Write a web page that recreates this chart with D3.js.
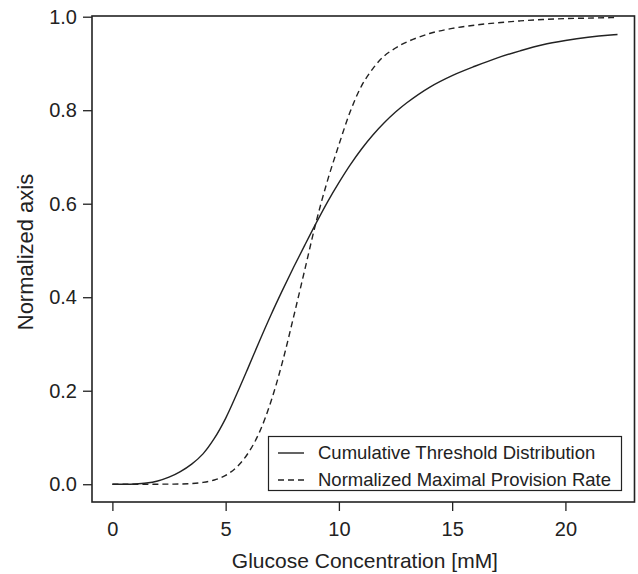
<!DOCTYPE html>
<html>
<head>
<meta charset="utf-8">
<script src="https://cdn.jsdelivr.net/npm/d3@7"></script>
<style>
  body { margin: 0; background: #fff; }
  svg text { font-family: "Liberation Sans", Arial, Helvetica, sans-serif; fill: #222; }
</style>
</head>
<body>
<svg id="chart" width="638" height="574"></svg>
<script>
// glucose concentration [mM] sample points
var glucose = [0, 0.5, 1, 1.5, 2, 2.5, 3, 3.5, 4, 4.5, 5, 5.5, 6, 6.5, 7, 7.5, 8, 8.5, 9, 9.5, 10, 10.5, 11, 11.5, 12, 12.5, 13, 14, 15, 16, 17, 18, 19, 20, 21, 22, 22.3];

// cumulative threshold distribution (solid)
var thresholdCdf = [0, 0, 0.0006, 0.0025, 0.007, 0.015, 0.027, 0.043, 0.065, 0.098, 0.141, 0.194, 0.25, 0.307, 0.362, 0.414, 0.464, 0.512, 0.559, 0.604, 0.645, 0.683, 0.717, 0.747, 0.773, 0.796, 0.816, 0.849, 0.874, 0.894, 0.912, 0.927, 0.94, 0.949, 0.956, 0.961, 0.962];

// normalized maximal provision rate (dashed)
var provisionRate = [0, 0, 0, 0, 0.0001, 0.0002, 0.0005, 0.0015, 0.004, 0.009, 0.019, 0.037, 0.067, 0.112, 0.177, 0.26, 0.358, 0.46, 0.562, 0.65, 0.726, 0.797, 0.852, 0.889, 0.916, 0.933, 0.946, 0.964, 0.975, 0.982, 0.987, 0.991, 0.994, 0.996, 0.997, 0.998, 0.9985];

var xTicks = [0, 5, 10, 15, 20];
var yTicks = [0, 0.2, 0.4, 0.6, 0.8, 1.0];
var seriesNames = ["Cumulative Threshold Distribution", "Normalized Maximal Provision Rate"];

var svg = d3.select("#chart");

var plot = { left: 92, right: 634.5, top: 16, bottom: 502 };

var x = d3.scaleLinear().domain([-0.9, 23.05]).range([plot.left, plot.right]);
var y = d3.scaleLinear().domain([-0.038, 1.0015]).range([plot.bottom, plot.top]);

// axes
var xAxis = d3.axisBottom(x).tickValues(xTicks).tickSize(9).tickPadding(6).tickFormat(d3.format("d"));
var yAxis = d3.axisLeft(y).tickValues(yTicks).tickSize(9).tickPadding(6).tickFormat(d3.format(".1f"));

var gx = svg.append("g")
    .attr("transform", "translate(0," + plot.bottom + ")")
    .call(xAxis);
var gy = svg.append("g")
    .attr("transform", "translate(" + plot.left + ",0)")
    .call(yAxis);

[gx, gy].forEach(function(g) {
    g.select(".domain").remove();
    g.selectAll(".tick line").attr("stroke", "#222").attr("stroke-width", 1.3);
    g.selectAll(".tick text").style("font-size", "20px");
});
gx.selectAll(".tick text").attr("dy", "0.95em");

// box
svg.append("rect")
    .attr("x", plot.left)
    .attr("y", plot.top)
    .attr("width", plot.right - plot.left)
    .attr("height", plot.bottom - plot.top)
    .attr("fill", "none")
    .attr("stroke", "#222")
    .attr("stroke-width", 1.6);

// curves
var line = d3.line()
    .x(function(d) { return x(d[0]); })
    .y(function(d) { return y(d[1]); })
    .curve(d3.curveCatmullRom.alpha(0.5));

var solidData = glucose.map(function(g, i) { return [g, thresholdCdf[i]]; });
var dashedData = glucose.map(function(g, i) { return [g, provisionRate[i]]; });

svg.append("path")
    .datum(solidData)
    .attr("d", line)
    .attr("fill", "none")
    .attr("stroke", "#222")
    .attr("stroke-width", 1.4);

svg.append("path")
    .datum(dashedData)
    .attr("d", line)
    .attr("fill", "none")
    .attr("stroke", "#222")
    .attr("stroke-width", 1.4)
    .attr("stroke-dasharray", "6,4");

// axis titles
svg.append("text")
    .attr("x", (x(0) + x(20)) / 2 + 26)
    .attr("y", 568)
    .attr("text-anchor", "middle")
    .style("font-size", "21px")
    .text("Glucose Concentration [mM]");

svg.append("text")
    .attr("transform", "translate(33,252) rotate(-90)")
    .attr("text-anchor", "middle")
    .style("font-size", "22px")
    .text("Normalized axis");

// legend
var legend = svg.append("g");
legend.append("rect")
    .attr("x", 268.5)
    .attr("y", 436.5)
    .attr("width", 353)
    .attr("height", 54)
    .attr("fill", "#fff")
    .attr("stroke", "#222")
    .attr("stroke-width", 1.2);

seriesNames.forEach(function(name, i) {
    var cy = 453 + i * 27;
    legend.append("line")
        .attr("x1", 278).attr("x2", 304)
        .attr("y1", cy).attr("y2", cy)
        .attr("stroke", "#222")
        .attr("stroke-width", 1.4)
        .attr("stroke-dasharray", i === 1 ? "6,4" : null);
    legend.append("text")
        .attr("x", 318)
        .attr("y", cy)
        .attr("dy", "0.35em")
        .style("font-size", "18.5px")
        .text(name);
});
</script>
</body>
</html>
